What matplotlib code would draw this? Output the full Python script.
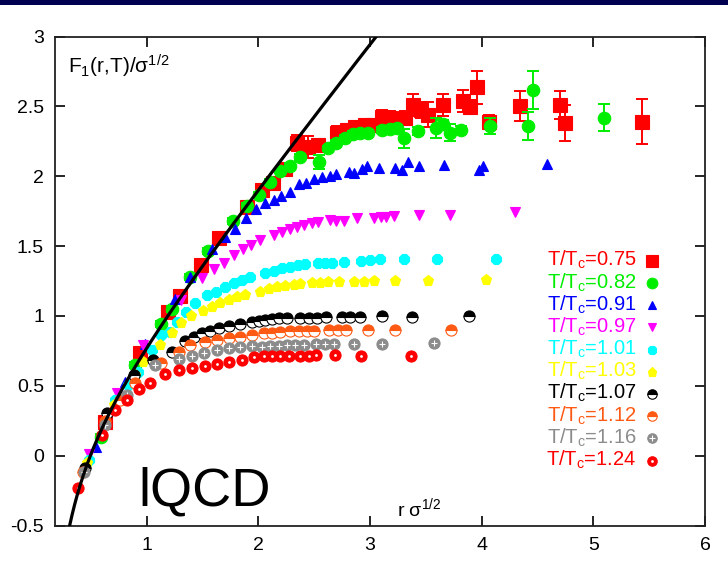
import numpy as np
import matplotlib
matplotlib.use("Agg")
import matplotlib.pyplot as plt
from matplotlib.patches import Rectangle

plt.rcParams['font.family'] = ['Liberation Sans', 'DejaVu Sans']
plt.rcParams['mathtext.fontset'] = 'custom'
plt.rcParams['mathtext.rm'] = 'Liberation Sans'
plt.rcParams['mathtext.it'] = 'Liberation Sans'
plt.rcParams['mathtext.default'] = 'regular'

# ---------------- data ----------------
x075 = [0.631, 0.945, 1.195, 1.30, 1.49, 1.652, 1.90, 2.034, 2.135, 2.243, 2.347, 2.449, 2.538, 2.705, 2.795,
        2.869, 2.959, 3.031, 3.108, 3.183, 3.317, 3.386, 3.46, 3.523, 3.654, 3.836, 3.899, 3.959, 4.069, 4.347,
        4.705, 4.75, 5.436]
y075 = [0.243, 0.735, 1.03, 1.143, 1.365, 1.558, 1.782, 1.902, 1.952, 2.052, 2.238, 2.21, 2.224, 2.312, 2.331,
        2.355, 2.367, 2.367, 2.427, 2.417, 2.417, 2.51, 2.475, 2.44, 2.51, 2.541, 2.498, 2.637, 2.391, 2.503,
        2.51, 2.382, 2.391]
e075 = [0.02, 0.02, 0.02, 0.02, 0.02, 0.02, 0.02, 0.02, 0.02, 0.02, 0.06, 0.08, 0.03, 0.05, 0.04,
        0.04, 0.04, 0.04, 0.05, 0.05, 0.05, 0.08, 0.06, 0.09, 0.08, 0.08, 0.05, 0.12, 0.05, 0.11,
        0.10, 0.13, 0.16]

x082 = [0.595, 0.894, 1.133, 1.228, 1.392, 1.55, 1.774, 1.90, 2.004, 2.108, 2.198, 2.287, 2.377, 2.541, 2.621,
        2.699, 2.78, 2.849, 2.914, 2.979, 3.108, 3.183, 3.243, 3.308, 3.427, 3.594, 3.654, 3.714, 3.815, 4.072,
        4.412, 4.46, 5.093]
y082 = [0.136, 0.649, 0.943, 1.05, 1.277, 1.465, 1.68, 1.787, 1.866, 1.961, 2.04, 2.074, 2.14, 2.105, 2.2,
        2.241, 2.272, 2.303, 2.308, 2.312, 2.331, 2.336, 2.348, 2.272, 2.326, 2.344, 2.374, 2.312, 2.331, 2.36,
        2.36, 2.618, 2.42]
e082 = [0.02, 0.02, 0.02, 0.02, 0.02, 0.02, 0.02, 0.02, 0.02, 0.02, 0.02, 0.02, 0.02, 0.05, 0.02,
        0.02, 0.02, 0.02, 0.02, 0.02, 0.02, 0.02, 0.02, 0.07, 0.03, 0.07, 0.03, 0.06, 0.03, 0.06,
        0.10, 0.138, 0.095]

x091 = [0.548, 0.81, 0.989, 1.258, 1.392, 1.586, 1.706, 1.795, 1.894, 1.983, 2.064, 2.138, 2.20, 2.281, 2.362,
        2.431, 2.502, 2.571, 2.645, 2.699, 2.809, 2.86, 2.929, 2.974, 3.078, 3.227, 3.287, 3.338, 3.436, 3.66,
        3.973, 4.012, 4.585]
y091 = [0.065, 0.53, 0.80, 1.12, 1.281, 1.477, 1.568, 1.62, 1.699, 1.764, 1.807, 1.83, 1.86, 1.89, 1.945,
        1.954, 1.979, 1.993, 2.002, 2.016, 2.033, 2.026, 2.05, 2.074, 2.057, 2.062, 2.045, 2.105, 2.074, 2.081,
        2.045, 2.074, 2.086]

x097 = [0.482, 0.736, 0.97, 1.311, 1.497, 1.60, 1.69, 1.78, 1.864, 1.936, 2.013, 2.144, 2.213, 2.281, 2.347,
        2.413, 2.482, 2.532, 2.639, 2.699, 2.765, 2.885, 3.039, 3.099, 3.147, 3.218, 3.436, 3.72, 4.302]
y097 = [0.012, 0.447, 0.79, 1.114, 1.27, 1.334, 1.382, 1.437, 1.482, 1.508, 1.544, 1.58, 1.603, 1.621, 1.64,
        1.651, 1.664, 1.675, 1.687, 1.682, 1.682, 1.699, 1.704, 1.706, 1.711, 1.716, 1.723, 1.723, 1.747]

x101 = [0.482, 0.714, 0.834, 0.924, 1.049, 1.133, 1.213, 1.273, 1.35, 1.437, 1.542, 1.625, 1.706, 1.78, 1.855,
        1.929, 2.064, 2.138, 2.213, 2.281, 2.353, 2.422, 2.532, 2.601, 2.661, 2.771, 2.92, 2.997, 3.087, 3.302,
        3.601, 4.131]
y101 = [-0.03, 0.399, 0.506, 0.601, 0.757, 0.864, 0.888, 0.959, 1.03, 1.091, 1.15, 1.174, 1.21, 1.238, 1.258,
        1.281, 1.306, 1.324, 1.341, 1.353, 1.365, 1.372, 1.377, 1.382, 1.382, 1.389, 1.396, 1.401, 1.406, 1.406,
        1.406, 1.406]

x103 = [0.467, 0.706, 0.90, 0.965, 1.124, 1.228, 1.31, 1.401, 1.502, 1.586, 1.661, 1.735, 1.81, 1.885, 2.013,
        2.093, 2.168, 2.243, 2.317, 2.371, 2.482, 2.556, 2.621, 2.72, 2.854, 2.944, 3.033, 3.227, 3.517, 4.042]
y103 = [-0.055, 0.363, 0.578, 0.673, 0.792, 0.876, 0.95, 1.0, 1.038, 1.067, 1.091, 1.114, 1.138, 1.15, 1.174,
        1.191, 1.205, 1.215, 1.222, 1.229, 1.234, 1.238, 1.243, 1.245, 1.245, 1.245, 1.253, 1.253, 1.253, 1.258]

x107 = [0.452, 0.646, 0.885, 1.055, 1.228, 1.341, 1.422, 1.497, 1.571, 1.646, 1.735, 1.84, 1.944, 2.004, 2.064,
        2.124, 2.183, 2.258, 2.377, 2.451, 2.526, 2.61, 2.75, 2.824, 2.908, 3.108, 3.377, 3.884]
y107 = [-0.09, 0.304, 0.578, 0.685, 0.745, 0.823, 0.852, 0.876, 0.895, 0.912, 0.928, 0.943, 0.955, 0.966, 0.971,
        0.976, 0.983, 0.983, 0.983, 0.988, 0.988, 0.995, 0.995, 0.995, 0.995, 1.0, 0.995, 1.0]

x112 = [0.428, 0.631, 0.76, 0.90, 1.133, 1.294, 1.392, 1.526, 1.631, 1.735, 1.84, 1.944, 2.049, 2.124, 2.198,
        2.287, 2.362, 2.437, 2.502, 2.63, 2.711, 2.789, 2.979, 3.227, 3.726]
y112 = [-0.115, 0.251, 0.40, 0.523, 0.666, 0.745, 0.792, 0.816, 0.828, 0.84, 0.852, 0.864, 0.876, 0.88, 0.888,
        0.893, 0.895, 0.895, 0.895, 0.9, 0.9, 0.9, 0.9, 0.9, 0.9]

x116 = [0.437, 0.631, 0.826, 1.079, 1.287, 1.407, 1.511, 1.631, 1.735, 1.84, 1.944, 2.034, 2.108, 2.183, 2.258,
        2.332, 2.407, 2.52, 2.601, 2.675, 2.854, 3.108, 3.57]
y116 = [-0.12, 0.22, 0.436, 0.649, 0.69, 0.714, 0.733, 0.757, 0.768, 0.78, 0.785, 0.78, 0.785, 0.785, 0.792,
        0.792, 0.792, 0.797, 0.797, 0.797, 0.797, 0.8, 0.805]

x124 = [0.386, 0.601, 0.721, 0.826, 0.93, 1.034, 1.168, 1.287, 1.407, 1.526, 1.631, 1.735, 1.855, 1.959, 2.049,
        2.124, 2.198, 2.272, 2.377, 2.451, 2.52, 2.69, 2.92, 3.368]
y124 = [-0.233, 0.148, 0.327, 0.399, 0.475, 0.518, 0.585, 0.613, 0.626, 0.642, 0.656, 0.673, 0.685, 0.709, 0.714,
        0.714, 0.714, 0.714, 0.714, 0.714, 0.719, 0.721, 0.714, 0.714]

labels = ['0.75', '0.82', '0.91', '0.97', '1.01', '1.03', '1.07', '1.12', '1.16', '1.24']
colors = ['#ff0000', '#00ee00', '#0000ff', '#ff00ff', '#00ffff', '#ffff00', '#000000', '#ff5a14', '#8c8c8c', '#ff0000']

# T=0 potential (Cornell form with Luscher term): F = r - pi/(12 r) + const
coul = np.pi / 12.0
const = 0.03

# ---------------- figure ----------------
fig = plt.figure(figsize=(7.28, 5.73), dpi=100)
fig.patches.append(Rectangle((0, 1 - 5 / 573), 1, 5 / 573, transform=fig.transFigure,
                             facecolor='#000050', edgecolor='none'))
ax = fig.add_axes([55 / 728, 1 - 525.5 / 573, 650 / 728, 488.9 / 573])

series = [
    (x075, y075, e075, dict(marker='s', ms=9.5)),
    (x082, y082, e082, dict(marker='o', ms=9)),
    (x091, y091, None, dict(marker='^', ms=7)),
    (x097, y097, None, dict(marker='v', ms=7)),
    (x101, y101, None, dict(marker='8', ms=7.5)),
    (x103, y103, None, dict(marker='p', ms=8)),
    (x107, y107, None, dict(marker='o', ms=8, fillstyle='top')),
    (x112, y112, None, dict(marker='o', ms=8, fillstyle='top')),
    (x116, y116, None, dict(marker='o', ms=8)),
    (x124, y124, None, dict(marker='o', ms=8)),
]

for i, (xs, ys, es, st) in enumerate(series):
    c = colors[i]
    z = 3 + i * 0.1
    if es is not None:
        ax.errorbar(xs, ys, yerr=es, fmt='none', ecolor=c, elinewidth=1.4, capsize=4, capthick=1.4, zorder=z)
    ax.plot(xs, ys, linestyle='none', color=c, markerfacecolor=c, markerfacecoloralt='white',
            markeredgecolor=c, markeredgewidth=0.8, zorder=z + 0.01, **st)
    if i == 8:
        ax.plot(xs, ys, linestyle='none', marker='+', ms=5, mew=0.8, color='white', zorder=z + 0.02)
    if i == 9:
        ax.plot(xs, ys, linestyle='none', marker='o', ms=2, mew=0, color='white', zorder=z + 0.02)

# curve
rr = np.linspace(0.25, 3.3, 400)
ax.plot(rr, rr - coul / rr + const, color='black', lw=2.3, zorder=5, solid_capstyle='butt')

# legend (manual, gnuplot style)
y0 = (525.5 - 266) / 488.9
ym0 = (525.5 - 260.7) / 488.9
dy = 22.2 / 488.9
mk_styles = [s[3] for s in series]
for i, lab in enumerate(labels):
    c = colors[i]
    ax.text(0.895, y0 - i * dy, r'T/T$_\mathrm{c}$=' + lab, color=c, fontsize=14.5,
            ha='right', va='baseline', transform=ax.transAxes, zorder=10)
    st = dict(mk_styles[i])
    st['ms'] = st['ms'] * 0.85
    ax.plot([0.918], [ym0 - i * dy], linestyle='none', color=c, markerfacecolor=c,
            markerfacecoloralt='white', markeredgecolor=c, markeredgewidth=0.8,
            transform=ax.transAxes, zorder=10, clip_on=False, **st)
    if i == 8:
        ax.plot([0.918], [ym0 - i * dy], linestyle='none', marker='+', ms=4, mew=0.8, color='white',
                transform=ax.transAxes, zorder=11)
    if i == 9:
        ax.plot([0.918], [ym0 - i * dy], linestyle='none', marker='o', ms=2, mew=0, color='white',
                transform=ax.transAxes, zorder=11)

ax.text(0.0195, (525.5 - 73) / 488.9, r'F$_1$(r,T)/σ$^{1/2}$', fontsize=15, ha='left', va='baseline',
        transform=ax.transAxes, zorder=10)
ax.text(0.526, (525.5 - 516) / 488.9, r'r σ$^{1/2}$', fontsize=14, ha='left', va='baseline',
        transform=ax.transAxes, zorder=10)
ax.text(0.129, (525.5 - 506) / 488.9, 'lQCD', fontsize=39, ha='left', va='baseline',
        transform=ax.transAxes, zorder=10)

ax.set_xlim(0.18, 6)
ax.set_ylim(-0.5, 3)
xt = [1, 2, 3, 4, 5, 6]
yt = [-0.5, 0, 0.5, 1, 1.5, 2, 2.5, 3]
ax.set_xticks(xt)
ax.set_xticklabels(['1', '2', '3', '4', '5', '6'])
ax.set_yticks(yt)
ax.set_yticklabels(['-0.5', '0', '0.5', '1', '1.5', '2', '2.5', '3'])
ax.tick_params(direction='in', length=7, width=1.2, top=True, right=True, labelsize=14, pad=8)
for sp in ax.spines.values():
    sp.set_linewidth(1.3)
    sp.set_color('#222222')

fig.savefig('out.png', dpi=100)
